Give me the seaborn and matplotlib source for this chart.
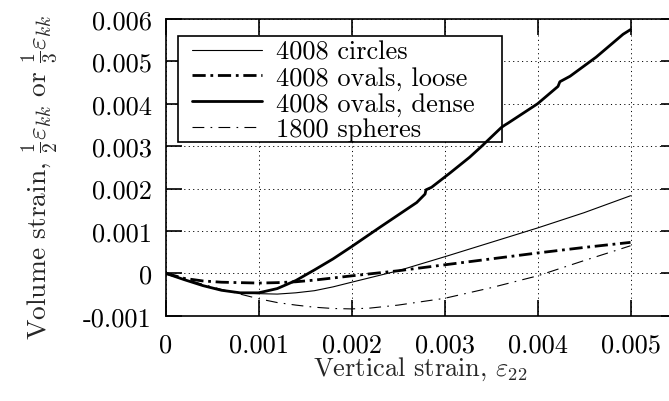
import numpy as np
import pandas as pd
import matplotlib
matplotlib.use("Agg")
import matplotlib.pyplot as plt
from matplotlib.patches import Rectangle
from matplotlib.ticker import FixedLocator, FixedFormatter
import seaborn as sns

# ---------------- data ----------------
circles_x = [0, 0.0002, 0.0004, 0.0006, 0.0008, 0.001, 0.0012, 0.0014, 0.0016, 0.0018,
             0.002, 0.0025, 0.003, 0.0035, 0.004, 0.0045, 0.005]
circles_y = [0, -0.00015, -0.00029, -0.0004, -0.00046, -0.00048, -0.00049, -0.00046,
             -0.00041, -0.00032, -0.00021, 0.00006, 0.00039, 0.00073, 0.00107, 0.00143, 0.00183]

loose_x = [0, 0.0002, 0.0004, 0.0006, 0.0008, 0.001, 0.0012, 0.0014, 0.0016, 0.0018,
           0.002, 0.0025, 0.003, 0.0035, 0.004, 0.0045, 0.005]
loose_y = [0, -0.00012, -0.00018, -0.00021, -0.00022, -0.00023, -0.00022, -0.0002,
           -0.00016, -0.00011, -0.00006, 0.00006, 0.0002, 0.00034, 0.00048, 0.00061, 0.00073]

dense_x = [0, 0.0002, 0.0004, 0.0006, 0.0008, 0.001, 0.0012, 0.0014, 0.0016, 0.0018,
           0.002, 0.0023, 0.0027, 0.00279, 0.0028, 0.00286, 0.00306, 0.00327, 0.0034,
           0.00361, 0.00365, 0.00368, 0.004, 0.00422, 0.00424, 0.00435, 0.00463, 0.00492, 0.005]
dense_y = [0, -0.00015, -0.00029, -0.0004, -0.00046, -0.00046, -0.00036, -0.00017,
           0.00008, 0.00034, 0.00063, 0.00108, 0.00167, 0.00187, 0.00197, 0.00203, 0.00237,
           0.00274, 0.003, 0.00344, 0.0035, 0.00354, 0.004, 0.00441, 0.00452, 0.00465,
           0.0051, 0.00564, 0.00575]

spheres_x = [0, 0.0002, 0.0004, 0.0006, 0.0008, 0.001, 0.0012, 0.0014, 0.0016, 0.0018,
             0.002, 0.0022, 0.0025, 0.003, 0.0035, 0.004, 0.0045, 0.005]
spheres_y = [0, -0.00013, -0.00026, -0.00038, -0.00049, -0.0006, -0.00069, -0.00075,
             -0.0008, -0.00083, -0.00084, -0.00082, -0.00075, -0.00059, -0.00034, -0.00006,
             0.0003, 0.00065]

labels = ["4008 circles", "4008 ovals, loose", "4008 ovals, dense", "1800 spheres"]

x_ticks = [0, 0.001, 0.002, 0.003, 0.004, 0.005]
x_tick_labels = ["0", "0.001", "0.002", "0.003", "0.004", "0.005"]
y_ticks = [-0.001, 0, 0.001, 0.002, 0.003, 0.004, 0.005, 0.006]
y_tick_labels = ["-0.001", "0", "0.001", "0.002", "0.003", "0.004", "0.005", "0.006"]

# ---------------- style ----------------
sns.set_theme(style="white")
plt.rcParams.update({
    "font.family": "cmr10",
    "mathtext.fontset": "cm",
    "axes.unicode_minus": False,
    "axes.formatter.use_mathtext": True,
    "font.size": 19,
    "lines.scale_dashes": False,
    "axes.edgecolor": "black",
    "text.color": "black",
    "xtick.color": "black",
    "ytick.color": "black",
})
FS = 19
FS_PX = FS * 100 / 72.0

fig = plt.figure(figsize=(6.69, 4.02), dpi=100)
W, H = 669.0, 402.0
ax_l, ax_r, ax_t, ax_b = 165.7, 677.0, 20.0, 316.7
ax = fig.add_axes([ax_l / W, 1 - ax_b / H, (ax_r - ax_l) / W, (ax_b - ax_t) / H])
aw, ah = ax_r - ax_l, ax_b - ax_t

styles = [
    dict(lw=0.8, ls="-"),
    dict(lw=2.0, ls=(0, (9.5, 3.4, 2.0, 3.4))),
    dict(lw=2.0, ls="-"),
    dict(lw=0.8, ls=(0, (8.5, 4.5, 1.2, 4.5))),
]
series = [(circles_x, circles_y), (loose_x, loose_y), (dense_x, dense_y), (spheres_x, spheres_y)]

for (xs, ys), lab, st in zip(series, labels, styles):
    df = pd.DataFrame({"x": xs, "y": ys})
    sns.lineplot(data=df, x="x", y="y", ax=ax, color="black", sort=False,
                 estimator=None, label=lab, linewidth=st["lw"], linestyle=st["ls"],
                 zorder=3)

ax.set_xlim(0, 0.0055)
ax.set_ylim(-0.001, 0.006)
ax.xaxis.set_major_locator(FixedLocator(x_ticks))
ax.xaxis.set_major_formatter(FixedFormatter(x_tick_labels))
ax.yaxis.set_major_locator(FixedLocator(y_ticks))
ax.yaxis.set_major_formatter(FixedFormatter(y_tick_labels))
ax.minorticks_off()

ax.grid(True, color="black", linestyle=(0, (0.8, 2.4)), linewidth=0.7, zorder=0)
ax.set_axisbelow(True)

for sp in ax.spines.values():
    sp.set_linewidth(1.2)
    sp.set_color("black")
    sp.set_visible(True)
ax.tick_params(which="major", direction="in", length=11.5, width=1.2,
               top=True, right=True, bottom=True, left=True, labelsize=FS)
ypad, xpad = 9.5, 13.0
ax.tick_params(axis="y", pad=ypad)
ax.tick_params(axis="x", pad=xpad)

ax.set_xlabel(r"Vertical strain, $\varepsilon_{22}$", fontsize=FS, va="baseline")
ax.set_ylabel(r"Volume strain, $\frac{1}{2}\varepsilon_{kk}$ or $\frac{1}{3}\varepsilon_{kk}$",
              fontsize=19.8, va="baseline")
xl_cx = 420.0
XL_BASE = 376.0
ax.xaxis.set_label_coords((xl_cx - ax_l) / aw, (ax_b - XL_BASE) / ah)
ax.yaxis.set_label_coords((45.5 - ax_l) / aw, (ax_b - 177.0) / ah)

# legend box
bl, bt, br, bb = 178.3, 36.7, 502.3, 143.3
rect = Rectangle(((bl - ax_l) / aw, (ax_b - bb) / ah), (br - bl) / aw, (bb - bt) / ah,
                 transform=ax.transAxes, facecolor="white", edgecolor="black",
                 linewidth=1.2, zorder=1)
ax.add_patch(rect)

handles, labs = ax.get_legend_handles_labels()


def make_legend(ls, top):
    if ax.get_legend() is not None:
        ax.get_legend().remove()
    lg = ax.legend(handles, labs, loc="upper left",
                   bbox_to_anchor=((192 - ax_l) / aw, (ax_b - top) / ah),
                   borderaxespad=0, borderpad=0, frameon=False, fontsize=FS,
                   handlelength=2.65, handletextpad=0.52, labelspacing=ls)
    lg.set_zorder(5)
    return lg


ls, top = 0.0, 45.0
leg = make_legend(ls, top)
target_base = [60.0, 85.8, 111.6, 137.4]

for _ in range(3):
    fig.canvas.draw()
    r = fig.canvas.get_renderer()
    bases = [H - t.get_transform().transform((0, 0))[1] for t in leg.get_texts()]
    sp_mine = (bases[-1] - bases[0]) / 3.0
    sp_tgt = (target_base[-1] - target_base[0]) / 3.0
    ls = ls + (sp_tgt - sp_mine) / FS_PX
    top = top + (target_base[0] - bases[0])
    leg = make_legend(ls, top)
    xt = [t for t in ax.get_xticklabels() if t.get_text()]
    xb = xt[1].get_window_extent(r)
    lp_d = r.get_text_width_height_descent("lp", xt[1].get_fontproperties(), ismath=False)[2]
    base_top = H - (xb.y0 + lp_d)
    xpad += (353.0 - base_top) * 0.72
    yt = [t for t in ax.get_yticklabels() if t.get_text()]
    yb = yt[-2].get_window_extent(r)
    ypad += (yb.x1 - 151.7) * 0.72
    ax.tick_params(axis="x", pad=xpad)
    ax.tick_params(axis="y", pad=ypad)
    lb = ax.xaxis.label.get_window_extent(r)
    xl_cx += 527.0 - lb.x1
    ax.xaxis.set_label_coords((xl_cx - ax_l) / aw, (ax_b - XL_BASE) / ah)

fig.savefig("out.png", dpi=100)
